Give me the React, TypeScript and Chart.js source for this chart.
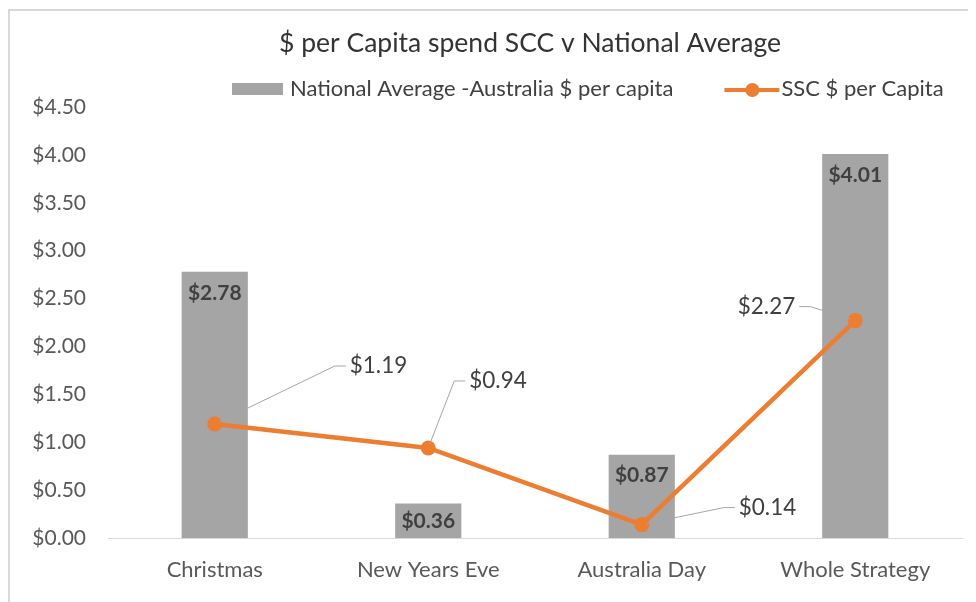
import { useEffect, useRef } from "react";
import { Chart, registerables } from "chart.js";

Chart.register(...registerables);

// ---- data ----
const chartTitle = "$ per Capita spend SCC v National Average";
const categories = ["Christmas", "New Years Eve", "Australia Day", "Whole Strategy"];
const seriesNames = ["National Average -Australia $ per capita", "SSC $ per Capita"];
const nationalAverage = [2.78, 0.36, 0.87, 4.01];
const sscPerCapita = [1.19, 0.94, 0.14, 2.27];
const yMin = 0;
const yMax = 4.5;
const yStep = 0.5;

// ---- styles ----
const FONT = "Lato";
const BAR_COLOR = "#A5A5A5";
const LINE_COLOR = "#ED7D31";
const TEXT_DARK = "#404040";
const TEXT_AXIS = "#595959";
const LEADER_COLOR = "#A6A6A6";

// label placement (pixels relative to each point): text edge anchor, which side the text sits on
const lineLabelOffsets = [
  { dx: 135, dy: -58, side: "right" },
  { dx: 41, dy: -67, side: "right" },
  { dx: 97, dy: -17, side: "right" },
  { dx: -60, dy: -14, side: "left" },
];

const money = (v: number) => "$" + v.toFixed(2);

export default function App() {
  const ref = useRef<HTMLCanvasElement>(null);

  useEffect(() => {
    document.documentElement.style.overflow = "hidden";
    const canvas = ref.current!;

    const labelsPlugin = {
      id: "valueLabels",
      afterDatasetsDraw(chart: any) {
        const ctx = chart.ctx as CanvasRenderingContext2D;
        const barMeta = chart.getDatasetMeta(0);
        const lineMeta = chart.getDatasetMeta(1);
        ctx.save();
        // bar labels (inside end)
        ctx.font = `bold 21px ${FONT}`;
        ctx.fillStyle = TEXT_DARK;
        ctx.textAlign = "center";
        ctx.textBaseline = "middle";
        barMeta.data.forEach((el: any, i: number) => {
          const { x, y, base } = el.getProps(["x", "y", "base"], true);
          const cy = Math.min(y + 21, (y + base) / 2);
          ctx.fillText(money(nationalAverage[i]), x, cy);
        });
        // line labels with leader lines
        ctx.font = `22.5px ${FONT}`;
        lineMeta.data.forEach((el: any, i: number) => {
          const { x, y } = el.getProps(["x", "y"], true);
          const o = lineLabelOffsets[i];
          const ax = x + o.dx;
          const ay = y + o.dy;
          const dir = o.side === "right" ? 1 : -1;
          const gap = 4;
          const seg = 11;
          const ex = ax - dir * (gap + seg);
          const hx = ax - dir * gap;
          const len = Math.hypot(ex - x, ay - y);
          const sx = x + ((ex - x) / len) * 5;
          const sy = y + ((ay - y) / len) * 5;
          ctx.strokeStyle = LEADER_COLOR;
          ctx.lineWidth = 1;
          ctx.beginPath();
          ctx.moveTo(sx, sy);
          ctx.lineTo(ex, ay);
          ctx.lineTo(hx, ay);
          ctx.stroke();
          ctx.fillStyle = TEXT_DARK;
          ctx.textAlign = dir === 1 ? "left" : "right";
          ctx.textBaseline = "middle";
          ctx.fillText(money(sscPerCapita[i]), ax, ay);
        });
        ctx.restore();
      },
    };

    const legendPlugin = {
      id: "customLegend",
      afterDraw(chart: any) {
        const ctx = chart.ctx as CanvasRenderingContext2D;
        const ds = chart.data.datasets;
        ctx.save();
        ctx.font = `22px ${FONT}`;
        ctx.fillStyle = TEXT_DARK;
        ctx.textBaseline = "middle";
        ctx.textAlign = "left";
        const cy = 78;
        let x = 222;
        // bar item
        ctx.fillStyle = ds[0].backgroundColor;
        ctx.fillRect(x, cy - 6, 51, 12);
        x += 51 + 7;
        ctx.fillStyle = TEXT_DARK;
        ctx.fillText(ds[0].label, x, cy);
        x += ctx.measureText(ds[0].label).width + 51;
        // line item
        ctx.strokeStyle = ds[1].borderColor;
        ctx.lineWidth = 4;
        ctx.beginPath();
        ctx.moveTo(x, cy + 1);
        ctx.lineTo(x + 55, cy + 1);
        ctx.stroke();
        ctx.fillStyle = ds[1].borderColor;
        ctx.beginPath();
        ctx.arc(x + 28, cy + 1, 7, 0, Math.PI * 2);
        ctx.fill();
        x += 55 + 2;
        ctx.fillStyle = TEXT_DARK;
        ctx.fillText(ds[1].label, x, cy);
        ctx.restore();
      },
    };

    const chart = new Chart(canvas, {
      type: "bar",
      data: {
        labels: categories,
        datasets: [
          {
            type: "bar",
            label: seriesNames[0],
            data: nationalAverage,
            backgroundColor: BAR_COLOR,
            borderWidth: 0,
            barPercentage: 0.31,
            categoryPercentage: 1,
            order: 2,
          },
          {
            type: "line",
            label: seriesNames[1],
            data: sscPerCapita,
            borderColor: LINE_COLOR,
            backgroundColor: LINE_COLOR,
            borderWidth: 4.5,
            pointRadius: 7.5,
            pointBackgroundColor: LINE_COLOR,
            pointBorderColor: LINE_COLOR,
            pointBorderWidth: 0,
            tension: 0,
            fill: false,
            order: 1,
          },
        ] as any,
      },
      options: {
        responsive: false,
        animation: false,
        layout: { padding: { left: 0, right: 0, top: 0, bottom: 0 } },
        plugins: {
          legend: { display: false },
          tooltip: { enabled: false },
          title: {
            display: true,
            text: chartTitle,
            color: "#333333",
            font: { family: FONT, size: 26.5, weight: "normal" },
            padding: { top: 17, bottom: 47.2 },
          },
        },
        scales: {
          x: {
            grid: { display: false, drawTicks: false },
            border: { display: true, color: "#D9D9D9", width: 1 },
            ticks: {
              color: TEXT_AXIS,
              font: { family: FONT, size: 22 },
              padding: 19,
              maxRotation: 0,
            },
            afterFit: (s: any) => {
              s.height = 64;
            },
          },
          y: {
            min: yMin,
            max: yMax,
            grid: { display: false, drawTicks: false },
            border: { display: false },
            ticks: {
              stepSize: yStep,
              color: TEXT_AXIS,
              font: { family: FONT, size: 21 },
              padding: 22,
              callback: (v: any) => money(Number(v)),
            },
            afterFit: (s: any) => {
              s.width = 98;
            },
          },
          yRightSpace: {
            position: "right",
            display: true,
            min: yMin,
            max: yMax,
            grid: { display: false, drawTicks: false },
            border: { display: false },
            ticks: { display: false },
            afterFit: (s: any) => {
              s.width = 88;
            },
          },
        },
      } as any,
      plugins: [labelsPlugin, legendPlugin],
    });

    return () => chart.destroy();
  }, []);

  return (
    <div
      style={{
        width: 966,
        height: 591,
        overflow: "hidden",
        borderTop: "2px solid #D9D9D9",
        borderLeft: "2px solid #D9D9D9",
        marginTop: 1,
        background: "#fff",
      }}
    >
      <canvas ref={ref} width={1040} height={591} style={{ display: "block" }} />
    </div>
  );
}
